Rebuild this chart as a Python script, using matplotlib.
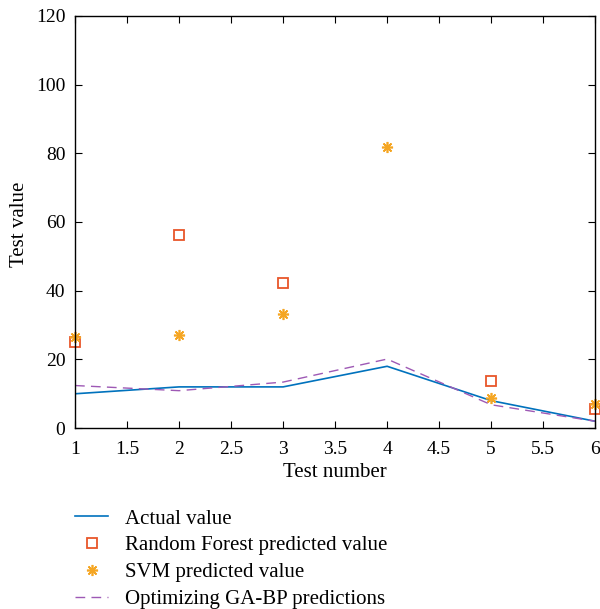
import numpy as np
from matplotlib import pyplot as plt

plt.rcParams['font.family'] = ['Liberation Serif', 'DejaVu Serif']

test_no = [1, 2, 3, 4, 5, 6]
actual = [10, 12, 12, 18, 8, 2]
ga_bp = [12.4, 10.9, 13.4, 20.1, 6.8, 2.0]
rf_x = [1, 2, 3, 5, 6]
rf_pred = [25.1, 56.2, 42.1, 13.7, 5.7]
svm_pred = [26.4, 27.2, 33.2, 81.7, 8.9, 7.1]

fig = plt.figure(figsize=(6, 6.09), dpi=100)
ax = fig.add_axes([0.125, 0.297, 0.867, 0.677])

l1, = ax.plot(test_no, actual, color='#0072BD', lw=1.2)
l2, = ax.plot(rf_x, rf_pred, ls='none', marker='s', markersize=7,
              markerfacecolor='none', markeredgecolor='#E8562A', markeredgewidth=1.3,
              clip_on=False)
l3, = ax.plot(test_no, svm_pred, ls='none', marker=(8, 2, 0), markersize=8,
              color='#F5A623', markeredgewidth=1.2, clip_on=False)
l4, = ax.plot(test_no, ga_bp, color='#9E59B5', lw=1.0, ls=(0, (7, 4.5)))

ax.set_xlim(1, 6)
ax.set_ylim(0, 120)
ax.set_xticks(np.arange(1, 6.01, 0.5))
ax.set_xticklabels(['1', '1.5', '2', '2.5', '3', '3.5', '4', '4.5', '5', '5.5', '6'])
ax.set_yticks(range(0, 121, 20))
ax.tick_params(direction='in', top=True, right=True, labelsize=14, length=5)
ax.tick_params(axis='x', pad=9)
ax.tick_params(axis='y', pad=7)
for s in ax.spines.values():
    s.set_linewidth(1.0)
ax.set_xlabel("Test number", fontsize=15, labelpad=4)
ax.set_ylabel("Test value", fontsize=15)
ax.yaxis.set_label_coords(-0.088, 0.495)

fig.legend([l1, l2, l3, l4],
           ['Actual value', 'Random Forest predicted value', 'SVM predicted value',
            'Optimizing GA-BP predictions'],
           loc='upper left', bbox_to_anchor=(0.111, 0.178), frameon=False,
           borderaxespad=0, fontsize=15, handlelength=1.6, labelspacing=0.35,
           handletextpad=0.8)

fig.savefig('out.png', dpi=100)
